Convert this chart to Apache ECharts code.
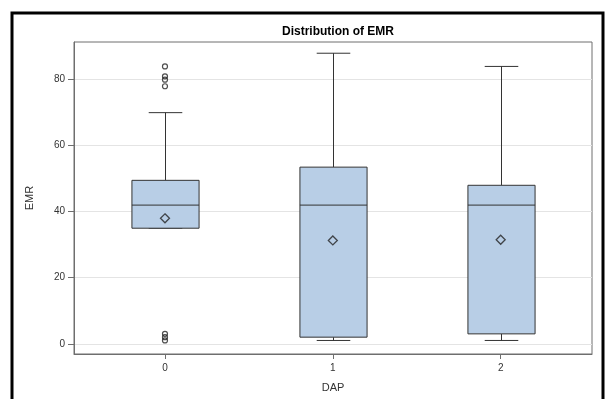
<!DOCTYPE html>
<html>
<head>
<meta charset="utf-8">
<script src="https://cdn.jsdelivr.net/npm/echarts@6/dist/echarts.min.js"></script>
<style>
  html, body { margin: 0; padding: 0; background: #fff; }
  #chart { width: 610px; height: 399px; }
</style>
</head>
<body>
<div id="chart"></div>
<script>
// EMR distribution by DAP group
const categories = ['0', '1', '2'];
const whiskerLow = [35, 1, 1];
const q1 = [35, 2, 3];
const median = [42, 42, 42];
const q3 = [49.5, 53.5, 48];
const whiskerHigh = [70, 88, 84];
const means = [38, 31.3, 31.5];
// outliers as [group index, value]
const outliers = [[0, 84], [0, 81], [0, 80], [0, 78], [0, 3], [0, 2], [0, 1]];
const yTicks = [0, 20, 40, 60, 80];

const boxData = categories.map((c, i) => [i, whiskerLow[i], q1[i], median[i], q3[i], whiskerHigh[i]]);
const meanData = categories.map((c, i) => [i, means[i]]);

const EDGE = '#333333';
const FILL = '#b8cee6';

function renderBox(params, api) {
  const x = api.value(0);
  const band = api.size([1, 0])[0];
  const hw = band * 0.2;      // half box width
  const cw = hw / 2;          // half cap width
  const pLow = api.coord([x, api.value(1)]);
  const pQ1 = api.coord([x, api.value(2)]);
  const pMed = api.coord([x, api.value(3)]);
  const pQ3 = api.coord([x, api.value(4)]);
  const pHigh = api.coord([x, api.value(5)]);
  const cx = Math.round(pQ1[0]) + 0.5;
  const lineStyle = { stroke: EDGE, lineWidth: 1, fill: null };
  return {
    type: 'group',
    children: [
      { type: 'line', shape: { x1: cx, y1: pQ3[1], x2: cx, y2: pHigh[1] }, style: lineStyle },
      { type: 'line', shape: { x1: cx, y1: pQ1[1], x2: cx, y2: pLow[1] }, style: lineStyle },
      { type: 'line', shape: { x1: cx - cw, y1: pHigh[1], x2: cx + cw, y2: pHigh[1] }, style: lineStyle },
      { type: 'line', shape: { x1: cx - cw, y1: pLow[1], x2: cx + cw, y2: pLow[1] }, style: lineStyle },
      { type: 'rect', shape: { x: cx - hw, y: pQ3[1], width: hw * 2, height: pQ1[1] - pQ3[1] },
        style: { fill: FILL, stroke: EDGE, lineWidth: 1 } },
      { type: 'line', shape: { x1: cx - hw, y1: pMed[1], x2: cx + hw, y2: pMed[1] }, style: lineStyle }
    ]
  };
}

const chart = echarts.init(document.getElementById('chart'), null, { renderer: 'canvas' });
const font = 'Liberation Sans, Arial, sans-serif';

chart.setOption({
  animation: false,
  backgroundColor: '#ffffff',
  title: {
    text: 'Distribution of EMR',
    left: 333, top: 21, textAlign: 'center',
    textStyle: { fontFamily: font, fontSize: 12, fontWeight: 'bold', color: '#000' }
  },
  graphic: [{
    type: 'rect',
    shape: { x: 12, y: 13, width: 591, height: 400 },
    style: { fill: null, stroke: '#000', lineWidth: 3 },
    silent: true
  }],
  grid: {
    left: 74, right: 18, top: 42, bottom: 45,
    show: true, borderColor: '#6e6e6e', borderWidth: 1, backgroundColor: 'transparent'
  },
  xAxis: {
    type: 'value',
    min: -0.542, max: 2.544,
    name: 'DAP', nameLocation: 'middle', nameGap: 28,
    nameTextStyle: { fontFamily: font, fontSize: 11, color: '#333' },
    axisLine: { show: true, onZero: false, lineStyle: { color: '#6e6e6e' } },
    axisTick: { show: true, customValues: [0, 1, 2], length: 5, lineStyle: { color: '#6e6e6e' } },
    axisLabel: {
      customValues: [0, 1, 2], margin: 9,
      formatter: v => categories[Math.round(v)],
      fontFamily: font, fontSize: 10, color: '#333'
    },
    splitLine: { show: false }
  },
  yAxis: {
    type: 'value',
    min: -3.1, max: 91.4,
    name: 'EMR', nameLocation: 'middle', nameGap: 39, nameRotate: 90,
    nameTextStyle: { fontFamily: font, fontSize: 11, color: '#333' },
    axisLine: { show: true, onZero: false, lineStyle: { color: '#6e6e6e' } },
    axisTick: { show: true, customValues: yTicks, length: 6, lineStyle: { color: '#6e6e6e' } },
    axisLabel: { customValues: yTicks, margin: 9, fontFamily: font, fontSize: 10, color: '#333' },
    splitLine: { show: true, lineStyle: { color: '#e4e4e4', width: 1 } }
  },
  series: [
    {
      type: 'custom',
      renderItem: renderBox,
      data: boxData,
      encode: { x: 0, y: [1, 2, 3, 4, 5] },
      z: 2
    },
    {
      type: 'scatter',
      data: meanData,
      symbol: 'diamond',
      symbolSize: 9,
      itemStyle: { color: 'transparent', borderColor: '#222', borderWidth: 1.3 },
      z: 3
    },
    {
      type: 'scatter',
      data: outliers,
      symbol: 'circle',
      symbolSize: 5,
      itemStyle: { color: 'transparent', borderColor: '#222', borderWidth: 1.2 },
      z: 3
    }
  ]
});
</script>
</body>
</html>
